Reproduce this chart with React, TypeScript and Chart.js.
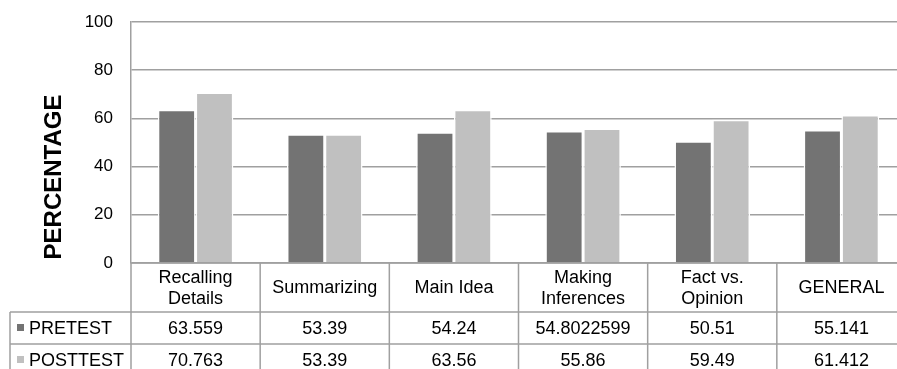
import React, { useEffect, useRef } from "react";
import { Chart, registerables } from "chart.js";

Chart.register(...registerables);

const categories: string[][] = [
  ["Recalling", "Details"],
  ["Summarizing"],
  ["Main Idea"],
  ["Making", "Inferences"],
  ["Fact vs.", "Opinion"],
  ["GENERAL"],
];
const pretest: number[] = [63.559, 53.39, 54.24, 54.8022599, 50.51, 55.141];
const posttest: number[] = [70.763, 53.39, 63.56, 55.86, 59.49, 61.412];
const seriesNames: string[] = ["PRETEST", "POSTTEST"];
const seriesColors: string[] = ["#737373", "#c0c0c0"];
const yTitle = "PERCENTAGE";

const FONT = "'Liberation Sans', Arial, Helvetica, sans-serif";
const LINE = "#a0a0a0";

const tablePlugin = {
  id: "dataTable",
  afterDraw(chart: any) {
    const ctx = chart.ctx as CanvasRenderingContext2D;
    const area = chart.chartArea;
    const x = chart.scales.x;
    const n = categories.length;
    const colW = (area.right - area.left) / n;
    const top = area.bottom;
    const row1 = top + 49;
    const row2 = row1 + 32;
    const row3 = row2 + 32;
    const H = chart.height;
    const tableLeft = 10;
    ctx.save();
    ctx.strokeStyle = LINE;
    ctx.lineWidth = 1.5;
    ctx.beginPath();
    ctx.moveTo(area.left, top);
    ctx.lineTo(chart.width, top);
    for (const yy of [row1, row2, row3]) {
      ctx.moveTo(tableLeft, yy);
      ctx.lineTo(chart.width, yy);
    }
    ctx.moveTo(tableLeft, row1);
    ctx.lineTo(tableLeft, H);
    for (let i = 0; i <= n; i++) {
      const xx = area.left + i * colW;
      ctx.moveTo(xx, top);
      ctx.lineTo(xx, H);
    }
    ctx.stroke();

    ctx.fillStyle = "#000";
    ctx.textAlign = "center";
    ctx.textBaseline = "middle";
    ctx.font = `18px ${FONT}`;
    for (let i = 0; i < n; i++) {
      const cx = x.getPixelForValue(i);
      const lines = categories[i];
      const lh = 21;
      const cy = (top + row1) / 2 + 1;
      lines.forEach((t, k) => {
        ctx.fillText(t, cx, cy + (k - (lines.length - 1) / 2) * lh);
      });
      ctx.fillText(String(pretest[i]), cx, (row1 + row2) / 2 + 1);
      ctx.fillText(String(posttest[i]), cx, (row2 + row3) / 2 + 1);
    }
    ctx.textAlign = "left";
    const rowsY = [(row1 + row2) / 2, (row2 + row3) / 2];
    seriesNames.forEach((s, k) => {
      ctx.fillStyle = seriesColors[k];
      ctx.fillRect(17, rowsY[k] - 4, 7, 7);
      ctx.fillStyle = "#000";
      ctx.fillText(s, 29, rowsY[k] + 1);
    });

    ctx.save();
    ctx.translate(54, 177);
    ctx.rotate(-Math.PI / 2);
    ctx.textAlign = "center";
    ctx.textBaseline = "middle";
    ctx.font = `bold 24px ${FONT}`;
    ctx.fillText(yTitle, 0, 0);
    ctx.restore();
    ctx.restore();
  },
};

export default function App() {
  const ref = useRef<HTMLCanvasElement | null>(null);
  useEffect(() => {
    if (!ref.current) return;
    const chart = new Chart(ref.current, {
      type: "bar",
      data: {
        labels: categories.map((c) => c.join(" ")),
        datasets: [
          {
            label: seriesNames[0],
            data: pretest,
            backgroundColor: seriesColors[0],
            borderColor: "#ffffff",
            borderWidth: 1.5,
          },
          {
            label: seriesNames[1],
            data: posttest,
            backgroundColor: seriesColors[1],
            borderColor: "#ffffff",
            borderWidth: 1.5,
          },
        ],
      },
      options: {
        responsive: false,
        animation: false,
        devicePixelRatio: 1,
        datasets: { bar: { categoryPercentage: 0.585, barPercentage: 1 } },
        layout: { padding: { top: 22, bottom: 106, left: 0, right: 1 } },
        plugins: { legend: { display: false }, tooltip: { enabled: false } },
        scales: {
          x: { display: false },
          y: {
            min: 0,
            max: 100,
            afterFit: (s: any) => {
              s.width = 131;
              s.paddingTop = 0;
              s.paddingBottom = 0;
            },
            ticks: {
              stepSize: 20,
              padding: 18,
              color: "#000",
              font: { family: FONT, size: 17 },
            },
            grid: { color: LINE, lineWidth: 1.5, drawTicks: false },
            border: { display: true, color: LINE, width: 1.5 },
          },
        },
      },
      plugins: [tablePlugin],
    });
    return () => chart.destroy();
  }, []);
  return (
    <div
      style={{
        position: "absolute",
        left: 0,
        top: 0,
        width: 897,
        height: 369,
        overflow: "hidden",
        background: "#fff",
      }}
    >
      <canvas ref={ref} width={907} height={369} style={{ width: 907, height: 369, display: "block" }} />
    </div>
  );
}
